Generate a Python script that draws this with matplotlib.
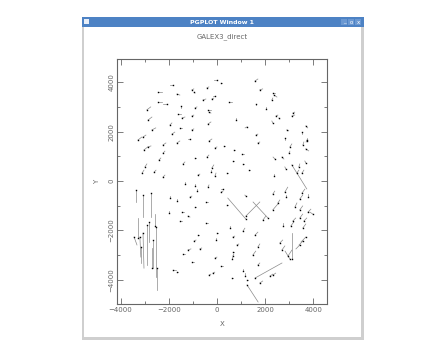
import numpy as np
import matplotlib
matplotlib.use('Agg')
from matplotlib import pyplot as plt
from matplotlib.patches import Rectangle
from matplotlib.ticker import MultipleLocator


# star positions and offset vectors (X, Y, dX, dY)
xpos = np.array([-1830, 0, 170, -2450, -1660, -1040, -950, -415, -80, -210,
  -2450, -2080, -1490, -580, -910, -2910, -370, -330, -1620, -1450,
  -1040, -2860, -370, -1950, -1540, -1040, -2700, -1870, -3070, -1120,
  -3280, -330, 1580, 1780, 2320, 2370, 500, 1620, 2280, 2030,
  2450, 2570, 3150, 3110, 790, 2320, 1250, 3690, 2900, 3530,
  1620, 2820, 3740, -3030, -2860, -2240, -1660, -80, -2240, -2410,
  -910, -415, -2990, -3110, -2610, -1410, -210, -250, -790, -80,
  -2240, -1330, -910, -370, -830, 170, -1950, -1660, -1120, -460,
  -910, -1990, -1450, -1200, -1540, -460, 290, 710, 1040, 1700,
  3030, 2990, 3740, 3570, 3690, 2410, 2700, 660, 1080, 415,
  1330, 2860, 3400, 3690, 3110, 3320, 3530, 2370, 250, 1200,
  2320, 2820, 2860, 3530, 3440, 3780, 420, 1200, 2120, 1200,
  2320, 2530, 3240, 3440, 3780, 3980, 1910, 3150, 3440, 3610,
  -790, 0, -950, -40, -710, -1200, -1410, -80, -1040, 170,
  -1830, -1660, -330, -170, 540, 1080, 660, 1580, 830, 1700,
  660, 660, 620, 1490, 1700, 620, 1080, 1160, 1780, 2740,
  3070, 3570, 3110, 2610, 2700, 2950, 3030, 3690, 3570, 3440,
  1580, 2320, 2200, 1250, 1250, -3360, -3070, -2740, -3280, -3150,
  -3070, -2910, -2660, -2530, -2490, -3440, -3200, -2700, -2570, -2820])
ypos = np.array([3890, 4090, 3970, 3600, 3520, 3690, 3600, 3770, 3440, 3320,
  3200, 3120, 3040, 3280, 2960, 2880, 2880, 2790, 2710, 2550,
  2630, 2470, 2310, 2270, 2150, 2070, 2070, 1900, 1780, 1700,
  1660, 1620, 4050, 3690, 3560, 3480, 3200, 3120, 3280, 2920,
  2630, 2550, 2750, 2630, 2470, 2350, 2190, 2230, 2070, 1980,
  1860, 1740, 1660, 1260, 1380, 1460, 1540, 1340, 1130, 850,
  930, 970, 570, 320, 360, 690, 530, 360, 240, 200,
  160, -120, -200, -240, -410, -450, -690, -810, -650, -850,
  -1050, -1300, -1260, -1420, -1620, -1700, 1420, 1260, 1090, 1540,
  1380, 1130, 1620, 1460, 1300, 890, 970, 810, 690, 320,
  450, 490, 570, 730, 650, 320, 320, 200, -320, -610,
  -530, -450, -650, -490, -730, -650, -970, -1540, -1500, -1420,
  -1170, -890, -1050, -1170, -1260, -1340, -1580, -1620, -1500, -1620,
  -2190, -2110, -2430, -2390, -2750, -2790, -2960, -3120, -3280, -3440,
  -3600, -3690, -3810, -3730, -1900, -2030, -2270, -2190, -2590, -2670,
  -2880, -3040, -3160, -3000, -3400, -3930, -3650, -3850, -4130, -1820,
  -1820, -1900, -3160, -2510, -2790, -3040, -3160, -2270, -2430, -2590,
  -3930, -3810, -3850, -4210, -4010, -360, -570, -490, -2310, -2670,
  -2110, -1780, -2390, -1860, -3520, -2270, -2270, -3520, -1820, -1660])
dx = np.array([-120, -120, 40, 160, 120, 80, 40, 80, -80, 80,
  160, -160, 0, 120, 80, 160, 120, 80, 120, 120,
  80, 160, 120, 80, 80, 80, 160, 120, 120, -80,
  160, 120, 120, 120, 80, 120, 120, 0, 40, 0,
  80, 40, 80, 120, 0, -40, -80, 80, 80, 0,
  80, 0, -40, 160, 120, 120, 120, 80, 80, 80,
  40, 80, 80, 80, 80, 80, 80, 0, 80, 40,
  80, 0, 0, 40, 0, 80, 0, 0, 80, 80,
  40, 0, 80, 80, 80, 80, 40, 40, 80, 80,
  80, 40, 0, 40, 120, -80, 80, 40, 40, 40,
  40, -40, 40, -40, 620, 80, 80, 0, -80, -40,
  80, 120, 0, 120, 120, 0, 40, -750, -620, 580,
  210, 80, 80, 120, 120, -120, 120, 120, 120, 120,
  40, 40, 80, 0, 80, 120, 80, 80, 80, 80,
  120, 40, 80, 80, 0, 80, 80, 120, 80, 80,
  40, 40, 0, 120, 80, 40, 0, 0, 120, 0,
  120, 120, 0, 120, 120, 160, -200, -200, -160, -160,
  1120, 120, 120, 460, 40, 0, 0, 0, 0, 0,
  40, 0, 0, 0, 0, 120, 40, 0, 0, 0])
dy = np.array([0, 0, 0, 0, -40, 40, -40, 40, 0, 40,
  0, 0, -80, 40, 40, 120, 0, -40, 0, 40,
  40, 120, 80, 80, 0, 40, 80, 80, 80, 0,
  120, 80, 80, 40, 0, -80, 0, -40, 80, 80,
  40, -40, 40, 40, 80, 80, -40, -80, -40, -80,
  40, -80, -80, 120, 40, 80, 80, 40, 80, 80,
  0, 80, 120, 120, 80, 80, 120, 80, 40, 120,
  80, 80, 80, 80, 80, 40, 80, 80, 40, 0,
  0, 80, 0, -40, 0, 0, 0, 0, 0, 40,
  120, 80, 120, 120, -80, 80, -80, 0, 0, 0,
  0, 80, 120, 80, -970, 120, 120, 80, 0, 40,
  120, 200, 80, 160, 160, 120, 0, 850, 650, 570,
  240, 120, 160, 160, 120, 80, 160, 120, 160, 120,
  0, 0, 40, 80, 40, 40, 0, 40, 0, 0,
  0, 0, 40, 40, 80, 120, 40, 120, 40, 120,
  0, 80, 80, 160, 80, 0, 80, 120, 80, 120,
  160, 160, 1050, 120, 160, 240, 320, -200, -160, -160,
  610, 80, 80, -690, 0, -490, -890, -970, 810, -650,
  -1420, -1620, -1130, -2030, -890, -320, -810, 810, 490, -810])

W, H = 445, 356
fig = plt.figure(figsize=(W/100., H/100.), dpi=100)
fig.patch.set_facecolor('white')


def box(x0, y0, x1, y1, color):
  # rectangle in screen pixels (top-left origin), kept behind the axes
  fig.add_artist(Rectangle((x0/float(W), 1-y1/float(H)), (x1-x0)/float(W), (y1-y0)/float(H),
    transform=fig.transFigure, facecolor=color, edgecolor='none', zorder=-10))


def label(x, y, s, **kw):
  fig.text(x/float(W), 1-y/float(H), s, ha='center', va='center', **kw)


# window frame
box(82, 17, 364, 340, '#cfcfcf')
box(84, 27, 361, 337, 'white')
box(82, 17, 364, 27, '#4d82c4')
box(84, 19, 89, 24, '#e8eef8')
for bx in [344, 351, 358]:
  box(bx-3, 19, bx+3, 25, '#6a98d2')
label(344, 22, '_', color='white', fontsize=4)
label(351, 22, 'o', color='white', fontsize=4)
label(358, 22, 'x', color='white', fontsize=4)
label(222, 22, 'PGPLOT Window 1', color='white', fontsize=4.5, fontweight='bold')

ax = fig.add_axes([117/float(W), 1-304/float(H), 210/float(W), 245/float(H)])
ax.set_zorder(5)
ax.patch.set_alpha(0)

for i in range(0, len(xpos)):
  ax.plot([xpos[i], xpos[i]+dx[i]], [ypos[i], ypos[i]+dy[i]], color='#8a8a8a', lw=0.5)
ax.plot(xpos, ypos, 's', ms=1.0, color='k', mec='none')

ax.set_xlim(-4150, 4570)
ax.set_ylim(-4980, 4940)
ax.set_xticks([-4000, -2000, 0, 2000, 4000])
ax.set_yticks([-4000, -2000, 0, 2000, 4000])
ax.xaxis.set_minor_locator(MultipleLocator(1000))
ax.yaxis.set_minor_locator(MultipleLocator(1000))
ax.tick_params(which='both', direction='in', top=True, right=True, color='#666666', width=0.6,
  labelsize=5, labelcolor='#666666', pad=2)
ax.tick_params(which='major', length=4)
ax.tick_params(which='minor', length=2)
for lab in ax.get_yticklabels():
  lab.set_rotation(90)
  lab.set_va('center')
for s in ax.spines.values():
  s.set_color('#666666')
  s.set_linewidth(0.8)

ax.set_title('GALEX3_direct', fontsize=5, color='#666666', pad=15)
ax.set_xlabel('X', fontsize=5, color='#666666', labelpad=6)
ax.set_ylabel('Y', fontsize=5, color='#666666', labelpad=6)

fig.savefig('out.png', dpi=100)
